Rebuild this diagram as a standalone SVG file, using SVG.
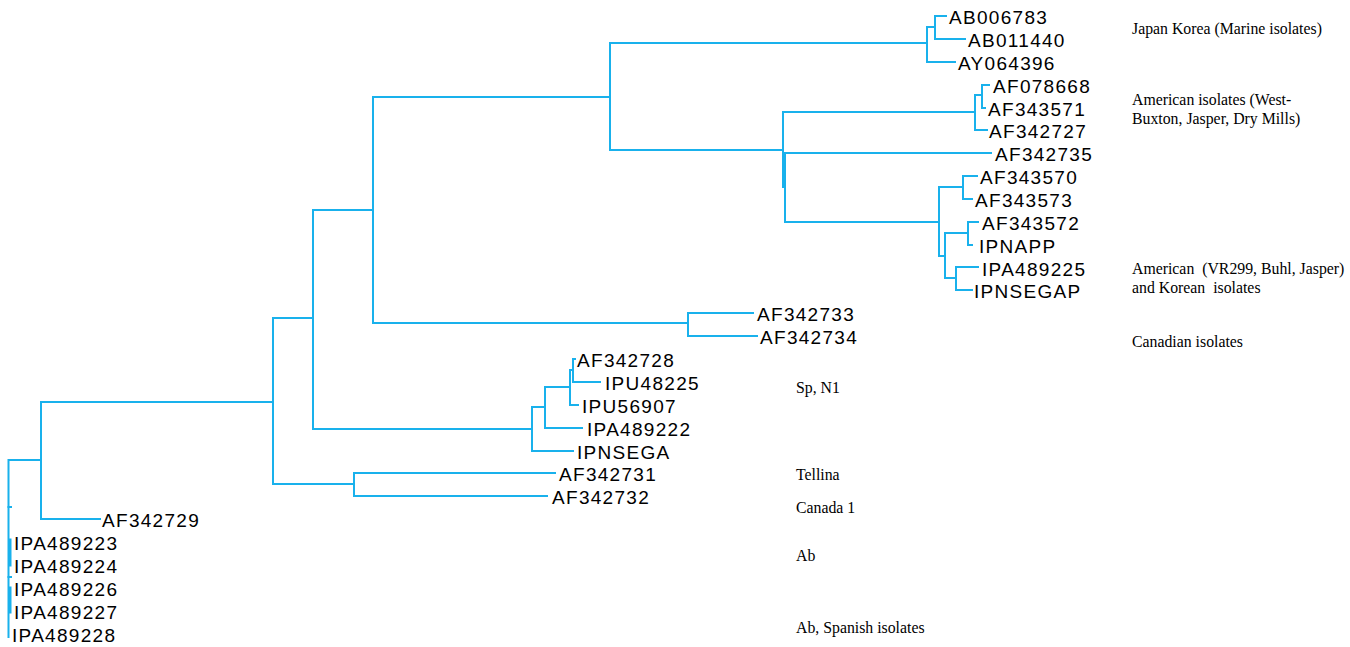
<svg xmlns="http://www.w3.org/2000/svg" width="1350" height="647" viewBox="0 0 1350 647">
<style>
.br{fill:none;stroke:#19b1ec;stroke-width:2;stroke-linecap:square}
.lf{font-family:"Liberation Sans",Arial,sans-serif;font-size:19px;letter-spacing:1.3px;fill:#000}
.gr{font-family:"Liberation Serif","Times New Roman",serif;font-size:15.8px;fill:#000}
</style>
<rect width="1350" height="647" fill="#fff"/>
<g id="connectors" class="br">
<path d="M8.5,460 V637 M8.5,460 H41 M41,402 V519 M41,519 H100 M41,402 H273"/>
<path d="M10,540 V565 M10,588 V612" stroke-width="3"/>
<path d="M8.5,507 H11 M8.5,577 H11"/>
<path d="M273,318 V484 M273,318 H313 M273,484 H354"/>
<path d="M354,473 V496 M354,473 H555 M354,496 H547"/>
<path d="M313,210 V429 M313,429 H532 M313,210 H373"/>
<path d="M532,407 V451 M532,451 H573 M532,407 H545"/>
<path d="M545,387 V428 M545,428 H582 M545,387 H570"/>
<path d="M570,370 V405 M570,405 H578 M570,370 H573"/>
<path d="M573,359 V382 M573,359 H575 M573,382 H600"/>
<path d="M373,97 V323 M373,97 H610 M373,323 H688"/>
<path d="M688,313 V336 M688,313 H753 M688,336 H757"/>
<path d="M610,43 V150 M610,43 H927 M610,150 H783"/>
<path d="M927,27 V62 M927,27 H935 M927,62 H955"/>
<path d="M935,16 V39 M935,16 H946 M935,39 H965"/>
<path d="M783,112 V187 M783,112 H975 M783,187 H785"/>
<path d="M785,153 V222 M785,153 H991 M785,222 H939"/>
<path d="M975,95 V130 M975,95 H982 M975,130 H987"/>
<path d="M982,85 V108 M982,85 H989 M982,108 H985"/>
<path d="M939,187 V256 M939,187 H963 M939,256 H945"/>
<path d="M963,176 V199 M963,176 H977 M963,199 H972"/>
<path d="M945,233 V278 M945,233 H968 M945,278 H956"/>
<path d="M968,222 V245 M968,222 H978 M968,245 H972"/>
<path d="M956,267 V290 M956,267 H978 M956,290 H972"/>
</g>
<g id="leaf-AB006783"><text class="lf" x="949" y="24">AB006783</text></g>
<g id="leaf-AB011440"><text class="lf" x="968" y="46.9">AB011440</text></g>
<g id="leaf-AY064396"><text class="lf" x="958" y="69.7">AY064396</text></g>
<g id="leaf-AF078668"><text class="lf" x="993" y="92.6">AF078668</text></g>
<g id="leaf-AF343571"><text class="lf" x="988" y="115.5">AF343571</text></g>
<g id="leaf-AF342727"><text class="lf" x="989" y="138.4">AF342727</text></g>
<g id="leaf-AF342735"><text class="lf" x="995" y="161.2">AF342735</text></g>
<g id="leaf-AF343570"><text class="lf" x="980" y="184.1">AF343570</text></g>
<g id="leaf-AF343573"><text class="lf" x="975" y="207">AF343573</text></g>
<g id="leaf-AF343572"><text class="lf" x="982" y="229.8">AF343572</text></g>
<g id="leaf-IPNAPP"><text class="lf" x="979" y="252.7">IPNAPP</text></g>
<g id="leaf-IPA489225"><text class="lf" x="982" y="275.6">IPA489225</text></g>
<g id="leaf-IPNSEGAP"><text class="lf" x="974" y="298.4">IPNSEGAP</text></g>
<g id="leaf-AF342733"><text class="lf" x="757" y="321.3">AF342733</text></g>
<g id="leaf-AF342734"><text class="lf" x="760" y="344.2">AF342734</text></g>
<g id="leaf-AF342728"><text class="lf" x="577" y="367">AF342728</text></g>
<g id="leaf-IPU48225"><text class="lf" x="605" y="389.9">IPU48225</text></g>
<g id="leaf-IPU56907"><text class="lf" x="582" y="412.8">IPU56907</text></g>
<g id="leaf-IPA489222"><text class="lf" x="587" y="435.7">IPA489222</text></g>
<g id="leaf-IPNSEGA"><text class="lf" x="577" y="458.5">IPNSEGA</text></g>
<g id="leaf-AF342731"><text class="lf" x="559" y="481.4">AF342731</text></g>
<g id="leaf-AF342732"><text class="lf" x="552" y="504.3">AF342732</text></g>
<g id="leaf-AF342729"><text class="lf" x="102" y="527.1">AF342729</text></g>
<g id="leaf-IPA489223"><text class="lf" x="14" y="550">IPA489223</text></g>
<g id="leaf-IPA489224"><text class="lf" x="14" y="572.9">IPA489224</text></g>
<g id="leaf-IPA489226"><text class="lf" x="14" y="595.7">IPA489226</text></g>
<g id="leaf-IPA489227"><text class="lf" x="14" y="618.6">IPA489227</text></g>
<g id="leaf-IPA489228"><text class="lf" x="12" y="641.5">IPA489228</text></g>
<g id="group-japan"><text class="gr" x="1132" y="34">Japan Korea (Marine isolates)</text></g>
<g id="group-american1"><text class="gr" x="1132" y="105">American isolates (West-</text><text class="gr" x="1132" y="124">Buxton, Jasper, Dry Mills)</text></g>
<g id="group-american2"><text class="gr" x="1132" y="274" xml:space="preserve">American  (VR299, Buhl, Jasper)</text><text class="gr" x="1132" y="293" xml:space="preserve">and Korean  isolates</text></g>
<g id="group-canadian"><text class="gr" x="1132" y="347">Canadian isolates</text></g>
<g id="group-sp"><text class="gr" x="796" y="393">Sp, N1</text></g>
<g id="group-tellina"><text class="gr" x="796" y="480">Tellina</text></g>
<g id="group-canada1"><text class="gr" x="796" y="513">Canada 1</text></g>
<g id="group-ab"><text class="gr" x="796" y="561">Ab</text></g>
<g id="group-ab-spanish"><text class="gr" x="796" y="633">Ab, Spanish isolates</text></g>
</svg>
